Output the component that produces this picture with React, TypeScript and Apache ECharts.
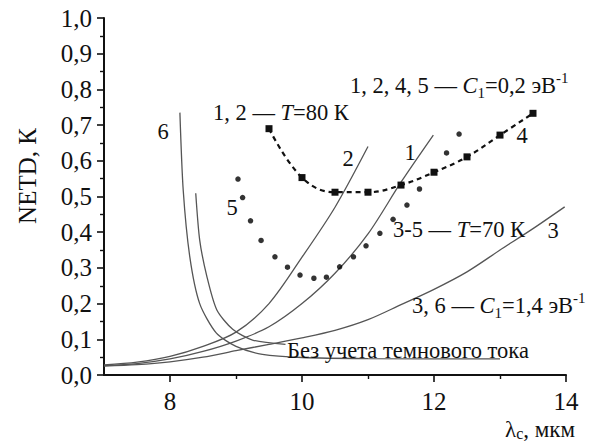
import React, { useEffect, useRef } from 'react';
import * as echarts from 'echarts';

// ---- data ----
const xMajorTicks = [8, 10, 12, 14];
const xMinorTicks = [9, 11, 13];

// curve 1 (T=80 K, C1=0.2)
const curve1 = [[7, 0.026], [7.5, 0.032], [8, 0.045], [8.5, 0.066], [9, 0.095], [9.5, 0.135], [10, 0.2], [10.5, 0.285], [11, 0.395], [11.5, 0.54], [11.99, 0.672]];
// curve 2
const curve2 = [[7, 0.028], [7.5, 0.036], [8, 0.052], [8.5, 0.08], [9, 0.12], [9.5, 0.2], [10, 0.33], [10.5, 0.47], [11.0, 0.64]];
// curve 3 (C1=1.4)
const curve3 = [[7, 0.025], [7.5, 0.029], [8, 0.037], [8.5, 0.05], [9, 0.068], [9.5, 0.086], [10, 0.104], [10.5, 0.125], [11, 0.155], [11.5, 0.197], [12, 0.24], [12.5, 0.289], [13, 0.35], [13.5, 0.41], [13.98, 0.471]];
// curve 4 (squares, dashed)
const curve4 = [[9.5, 0.69], [10, 0.553], [10.5, 0.512], [11, 0.512], [11.5, 0.532], [12, 0.568], [12.5, 0.611], [13, 0.672], [13.5, 0.733]];
// curve 5 (dotted)
const curve5 = [[9.03, 0.549], [9.1, 0.497], [9.22, 0.432], [9.38, 0.377], [9.59, 0.331], [9.78, 0.302], [9.97, 0.28], [10.18, 0.271], [10.37, 0.274], [10.57, 0.303], [10.78, 0.331], [10.97, 0.362], [11.18, 0.397], [11.38, 0.436], [11.59, 0.476], [11.78, 0.521], [12.19, 0.622], [12.38, 0.675]];
// curve 6 (steep, lower plateau – without dark current)
const curve6 = [[8.15, 0.735], [8.2, 0.518], [8.3, 0.331], [8.45, 0.2], [8.7, 0.118], [9.0, 0.08], [9.4, 0.058], [10.0, 0.049], [11, 0.046], [13, 0.045]];
// second steep curve
const curve7 = [[8.39, 0.509], [8.45, 0.378], [8.56, 0.275], [8.71, 0.182], [8.95, 0.128], [9.25, 0.098], [9.75, 0.086]];

const SERIF = "'Times New Roman', 'Liberation Serif', 'DejaVu Serif', serif";
const INK = '#111';
const GREY = '#555';
const FS = 22.5;

const solid = (name: string, data: number[][], smooth = 0.3) => ({
  name,
  type: 'line',
  data,
  smooth,
  showSymbol: false,
  symbol: 'none',
  lineStyle: { color: GREY, width: 1.3 },
  z: 2,
});

function txt(x: number, y: number, text: string, rich?: any, align = 'left', fontSize = FS, lineHeight = 30) {
  return {
    type: 'text',
    x,
    y,
    z: 10,
    style: {
      text,
      fill: INK,
      fontFamily: SERIF,
      fontSize,
      align,
      verticalAlign: 'middle',
      lineHeight,
      rich,
    },
  };
}

const richParts = {
  i: { fontFamily: SERIF, fontSize: FS, fontStyle: 'italic', fill: INK, lineHeight: 30 },
  s: { fontFamily: SERIF, fontSize: 15, fill: INK, verticalAlign: 'bottom', lineHeight: 30 },
  p: { fontFamily: SERIF, fontSize: 15, fill: INK, verticalAlign: 'top', lineHeight: 30 },
};

const richAxisName = {
  s: { fontFamily: SERIF, fontSize: 16, fill: INK, verticalAlign: 'bottom', lineHeight: 24 },
};

export default function App() {
  const ref = useRef<HTMLDivElement>(null);
  useEffect(() => {
    document.body.style.margin = '0';
    if (!ref.current) return;
    const chart = echarts.init(ref.current, undefined, { renderer: 'svg' });
    const axisCommon = {
      type: 'value',
      min: 7,
      max: 14,
      splitLine: { show: false },
    };
    chart.setOption({
      animation: false,
      backgroundColor: '#fff',
      textStyle: { fontFamily: SERIF },
      grid: { left: 104, right: 30, top: 18, bottom: 69, containLabel: false, outerBoundsMode: 'none' },
      xAxis: [
        {
          ...axisCommon,
          position: 'bottom',
          interval: 1,
          axisLine: { lineStyle: { color: INK, width: 2 } },
          axisTick: { show: true, length: 7, customValues: xMajorTicks, lineStyle: { color: INK, width: 1.6 } },
          axisLabel: { customValues: xMajorTicks, color: INK, fontFamily: SERIF, fontSize: 25, margin: 14 },
        },
        {
          ...axisCommon,
          position: 'bottom',
          interval: 1,
          axisLine: { show: false },
          axisTick: { show: true, length: 4, customValues: xMinorTicks, lineStyle: { color: INK, width: 1.4 } },
          axisLabel: { show: false },
        },
      ],
      yAxis: {
        type: 'value',
        min: 0,
        max: 1,
        interval: 0.1,
        splitLine: { show: false },
        axisLine: { show: true, lineStyle: { color: INK, width: 2 } },
        axisTick: { show: true, length: 7, lineStyle: { color: INK, width: 1.6 } },
        minorTick: { show: true, splitNumber: 2, length: 4, lineStyle: { color: INK, width: 1.4 } },
        axisLabel: {
          color: INK,
          fontFamily: SERIF,
          fontSize: 25,
          margin: 12,
          formatter: (v: number) => v.toFixed(1).replace('.', ','),
        },
      },
      series: [
        solid('1', curve1),
        solid('2', curve2),
        solid('3', curve3),
        solid('6', curve6, 0.25),
        solid('6b', curve7, 0.25),
        {
          name: '4',
          type: 'line',
          data: curve4,
          smooth: 0.4,
          symbol: 'rect',
          symbolSize: 7,
          itemStyle: { color: INK },
          lineStyle: { color: INK, width: 2.2, type: [5, 4] },
          z: 4,
        },
        {
          name: '5',
          type: 'scatter',
          data: curve5,
          symbol: 'circle',
          symbolSize: 5.5,
          itemStyle: { color: '#000' },
          z: 4,
        },
      ],
      graphic: [
        txt(350, 85, '1, 2, 4, 5 — {i|C}{s|1}=0,2 эВ{p|-1}', richParts),
        txt(213, 112, '1, 2 — {i|T}=80 К', richParts),
        txt(348, 158, '2', undefined, 'center'),
        txt(410, 152, '1', undefined, 'center'),
        txt(522, 135, '4', undefined, 'center'),
        txt(232, 207, '5', undefined, 'center'),
        txt(163, 131, '6', undefined, 'center'),
        txt(553, 230, '3', undefined, 'center'),
        txt(393, 229, '3-5 — {i|T}=70 К', richParts),
        txt(412, 305, '3, 6 — {i|C}{s|1}=1,4 эВ{p|-1}', richParts),
        txt(287, 350, 'Без учета темнового тока'),
        txt(505, 429, 'λ{s|с}, мкм', richAxisName, 'left', 23, 24),
        {
          type: 'text',
          x: 27,
          y: 176,
          rotation: Math.PI / 2,
          z: 10,
          style: {
            text: 'NETD, К',
            fill: INK,
            fontFamily: SERIF,
            fontSize: 25,
            align: 'center',
            verticalAlign: 'middle',
          },
        },
      ],
    });
    return () => chart.dispose();
  }, []);
  return <div ref={ref} style={{ width: 596, height: 444 }} />;
}
